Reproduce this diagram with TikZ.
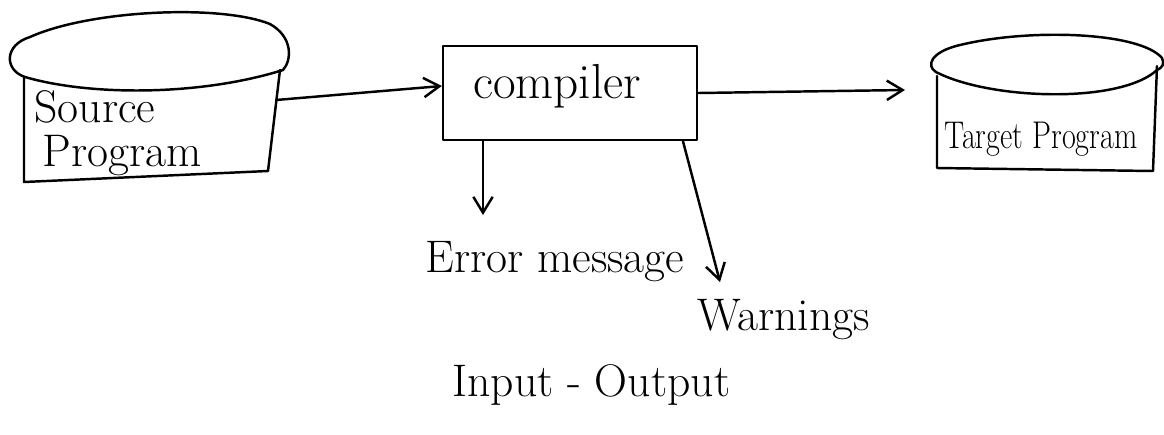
\documentclass[tikz,border=0pt]{standalone}
\usetikzlibrary{arrows.meta}
\begin{document}
\begin{tikzpicture}[x=0.02cm,y=-0.02cm,
  ink/.style={line width=1.4pt,line cap=round,line join=round},
  flow/.style={ink,-{Straight Barb[length=9pt,width=11pt,line width=1.4pt]}},
  hand/.style={font=\fontsize{26}{30}\selectfont,inner sep=0pt},
  procbox/.style={ink,draw,rectangle,minimum width=5.08cm,minimum height=1.88cm}]
\useasboundingbox (0,0) rectangle (1164,434);

% source program store
\draw[ink] (25,77) .. controls (4,70) and (4,45) .. (30,37)
  .. controls (90,10) and (220,4) .. (270,24)
  .. controls (293,37) and (292,60) .. (283,70)
  .. controls (200,96) and (90,96) .. (25,77);
\draw[ink] (24,77) -- (24,182) -- (268,171) -- (280,70);
\node[hand,anchor=base west] (srcA) at (34,122) {Source};
\node[hand,anchor=base west] (srcB) at (42,166) {Program};
\coordinate (srcout) at (276,100);

% compiler
\node[procbox] (comp) at (570,93) {};
\node[hand,font=\fontsize{28}{32}\selectfont] (compl) at (557,86) {compiler};

% target program store
\draw[ink] (936,72) .. controls (926,66) and (930,52) .. (960,45)
  .. controls (1030,28) and (1140,32) .. (1162,58)
  .. controls (1165,64) and (1162,68) .. (1157,70)
  .. controls (1120,104) and (990,100) .. (936,72);
\draw[ink] (937,76) -- (937,168) -- (1153,171) -- (1157,66);
\node[inner sep=0pt,anchor=base west] (tgt) at (944,148)
  {\scalebox{0.78}[1]{\fontsize{22}{26}\selectfont Target Program}};
\coordinate (tgtin) at (905,90);

% outputs below the compiler
\node[hand,anchor=base west] (err) at (425,272) {Error message};
\node[hand,anchor=base west] (warn) at (697,330) {Warnings};
\node[hand,anchor=base west] (io) at (452,396) {Input - Output};
\coordinate (errtip) at (483,215);
\coordinate (warntip) at (720,282);

% connectors
\draw[flow] (srcout) -- ([yshift=0.14cm]comp.west);
\draw[flow] (comp.east) -- (tgtin);
\draw[flow] (comp.south -| errtip) -- (errtip);
\draw[flow] ([xshift=2.26cm]comp.south) -- (warntip);
\end{tikzpicture}
\end{document}
